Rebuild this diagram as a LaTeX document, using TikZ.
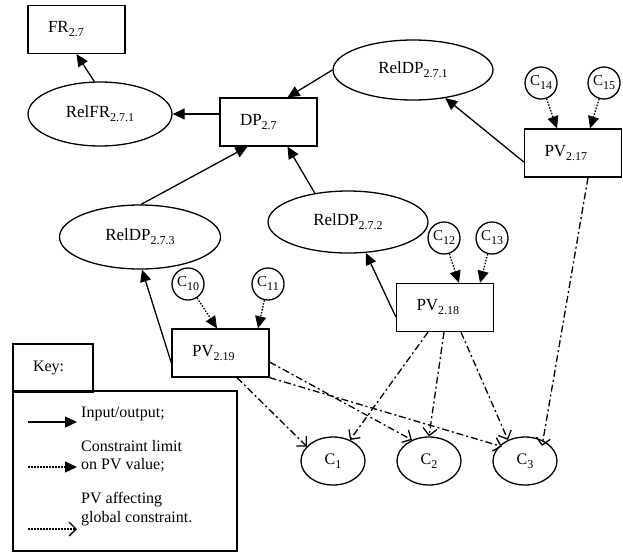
\documentclass[tikz,border=0pt]{standalone}
\usepackage{fontspec}
\setmainfont{Liberation Serif}
\usetikzlibrary{shapes.geometric,arrows.meta}
\newcommand\lsb[1]{\raisebox{-4pt}{\fontsize{12}{12}\selectfont #1}}
\begin{document}
\begin{tikzpicture}[x=1pt,y=-1pt,
  lw/.style={line width=1.3pt},
  box/.style={draw,lw,rectangle,minimum height=48pt,text width=57pt,inner xsep=20pt,inner ysep=0pt,align=left,font=\fontsize{17}{19}\selectfont},
  rel/.style={draw,lw,ellipse,inner sep=0pt,font=\fontsize{17}{19}\selectfont},
  cir/.style={draw,lw,circle,minimum size=32pt,inner sep=0pt,font=\fontsize{15}{16}\selectfont},
  gc/.style={draw,lw,ellipse,minimum width=64pt,minimum height=48pt,inner sep=0pt,font=\fontsize{16}{18}\selectfont},
  ktext/.style={anchor=base west,inner sep=0pt,font=\fontsize{16}{18}\selectfont},
  io/.style={lw,-{Triangle[length=12pt,width=11pt]}},
  lim/.style={lw,dash pattern=on 1.5pt off 1.5pt,-{Triangle[length=12pt,width=11pt]}},
  aff/.style={lw,dash pattern=on 7pt off 3pt on 2pt off 3pt,-{Straight Barb[length=7pt,width=14pt,line width=1.3pt]}},
  affkey/.style={lw,dash pattern=on 1.5pt off 1.5pt,-{Straight Barb[length=7pt,width=14pt,line width=1.3pt]}},
  ]
\useasboundingbox (0,0) rectangle (623,552);

% boxes
\node[box] (FR) at (76.5,29.5) {FR\lsb{2.7}};
\node[box] (DP) at (268.5,122) {DP\lsb{2.7}};
\node[box] (PV217) at (573,153) {PV\lsb{2.17}};
\node[box] (PV218) at (445,307.5) {PV\lsb{2.18}};
\node[box] (PV219) at (220.5,353) {PV\lsb{2.19}};

% ellipses
\node[rel,minimum width=144pt,minimum height=64pt] (RFR) at (100,114) {RelFR\lsb{2.7.1}};
\node[rel,minimum width=160pt,minimum height=60pt] (R271) at (413,70) {RelDP\lsb{2.7.1}};
\node[rel,minimum width=160pt,minimum height=62pt] (R272) at (348,222) {RelDP\lsb{2.7.2}};
\node[rel,minimum width=161pt,minimum height=64pt] (R273) at (140,237) {RelDP\lsb{2.7.3}};

% constraint circles
\node[cir] (C14) at (541,83) {C\lsb{14}};
\node[cir] (C15) at (604,83) {C\lsb{15}};
\node[cir] (C12) at (444,238) {C\lsb{12}};
\node[cir] (C13) at (492,238) {C\lsb{13}};
\node[cir] (C10) at (188,284) {C\lsb{10}};
\node[cir] (C11) at (268,284) {C\lsb{11}};

% global constraints
\node[gc] (C1) at (333,461) {C\lsb{1}};
\node[gc] (C2) at (429,461) {C\lsb{2}};
\node[gc] (C3) at (525,461) {C\lsb{3}};

% input/output
\draw[io] (RFR.100) -- (FR.south);
\draw[io] (DP.west |- RFR.east) -- (RFR.east);
\draw[io] (R271.west) -- ([xshift=19pt]DP.north);
\draw[io] (R273.88) -- ([xshift=-21pt]DP.south);
\draw[io] (R272.139) -- ([xshift=19pt]DP.south);
\draw[io] ([yshift=-9pt]PV217.west) -- (R271.319);
\draw[io] ([yshift=-9.5pt]PV218.west) -- (R272.300);
\draw[io] ([yshift=-10pt]PV219.west) -- ([xshift=2pt]R273.south);

% constraint limits
\draw[lim] (C14) -- ([xshift=-16pt]PV217.north);
\draw[lim] (C15) -- ([xshift=17pt]PV217.north);
\draw[lim] (C12) -- ([xshift=14pt]PV218.north);
\draw[lim] (C13) -- ([xshift=35pt]PV218.north);
\draw[lim] (C10) -- ([xshift=-3.5pt]PV219.north);
\draw[lim] (C11) -- ([xshift=37.5pt]PV219.north);

% affecting global constraints
\draw[aff] ([xshift=16.5pt]PV219.south) -- ([xshift=-3pt,yshift=-3pt]C1.north west);
\draw[aff] ([yshift=-9pt]PV219.east) -- (C2.129);
\draw[aff] (PV219.south east) -- ([yshift=-3pt]C3.north west);
\draw[aff] ([xshift=-17pt]PV218.south) -- (C1.51);
\draw[aff] ([xshift=-1pt]PV218.south) -- (C2.north);
\draw[aff] ([xshift=16pt]PV218.south) -- (C3.129);
\draw[aff] ([xshift=15pt]PV217.south) -- ([yshift=-6pt]C3.51);

% key
\node[box,text width=40pt,minimum height=48pt,font=\fontsize{16}{18}\selectfont] (key) at (53,368) {Key:};
\node[draw,lw,minimum width=224pt,minimum height=160pt,inner sep=0pt] (legend) at (125,471) {};
\node[ktext] (t1) at (81,417) {Input/output;};
\node[ktext] (t2) at (81,451) {Constraint limit};
\node[ktext] (t3) at (81,469) {on PV value;};
\node[ktext] (t4) at (81,503) {PV affecting};
\node[ktext] (t5) at (81,522) {global constraint.};
\coordinate (k1a) at (28,422); \coordinate (k1b) at (77,422);
\coordinate (k2a) at (28,467); \coordinate (k2b) at (77,467);
\coordinate (k3a) at (28,529); \coordinate (k3b) at (77,529);
\draw[io] (k1a) -- (k1b);
\draw[lim] (k2a) -- (k2b);
\draw[affkey] (k3a) -- (k3b);
\end{tikzpicture}
\end{document}
